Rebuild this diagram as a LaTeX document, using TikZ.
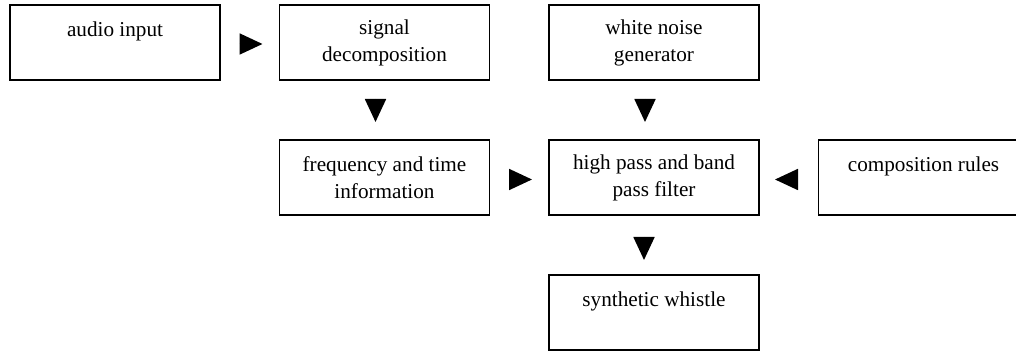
\documentclass[tikz,border=0pt]{standalone}
\usepackage{fontspec}
\setmainfont{Liberation Serif}
\usepackage{tikz}
\usetikzlibrary{arrows.meta, positioning}

\begin{document}
\begin{tikzpicture}[>={Triangle[length=11.5pt,width=10.5pt]}, font=\fontsize{10.6}{13.5}\selectfont,
        node distance=30pt and 29.75pt,
        block/.style={draw, line width=0.9pt, outer sep=0pt, minimum width=105pt, minimum height=37.5pt, align=center, inner sep=0pt},
        flow/.style={->, line width=0.9pt, shorten <=9.75pt, shorten >=8.5pt},
        down/.style={->, line width=0.9pt, shorten <=9.5pt, shorten >=9pt}]
            \useasboundingbox (0,-0.5pt) rectangle (508pt,-176pt);

            % 1. Các khối
            \node[block] (audio) at (57.5pt,-21.75pt) {audio input\\ \mbox{}};
            \node[block, right=of audio] (signal) {signal\\decomposition};
            \node[block, right=of signal] (noise) {white noise\\generator};
            \node[block, below=of signal] (freq) {frequency and time\\information};
            \node[block, below=of noise] (filter) {high pass and band\\pass filter};
            \node[block, right=of filter] (rules) {composition rules\\ \mbox{}};
            \node[block, below=of filter] (whistle) {synthetic whistle\\ \mbox{}};

            % 2. Các mũi tên
            \draw[flow] ([yshift=-0.75pt]audio.east) -- ([yshift=-0.75pt]signal.west);
            \draw[flow] ([yshift=-1pt]freq.east) -- ([yshift=-1pt]filter.west);
            \draw[flow, shorten <=10.75pt, shorten >=8pt] ([yshift=-1pt]rules.west) -- ([yshift=-1pt]filter.east);
            \draw[down] ([xshift=-4.5pt]signal.south) -- ([xshift=-4.5pt]freq.north);
            \draw[down] ([xshift=-4.5pt]noise.south) -- ([xshift=-4.5pt]filter.north);
            \draw[down, shorten <=11pt, shorten >=7.5pt] ([xshift=-5pt]filter.south) -- ([xshift=-5pt]whistle.north);
\end{tikzpicture}
\end{document}
